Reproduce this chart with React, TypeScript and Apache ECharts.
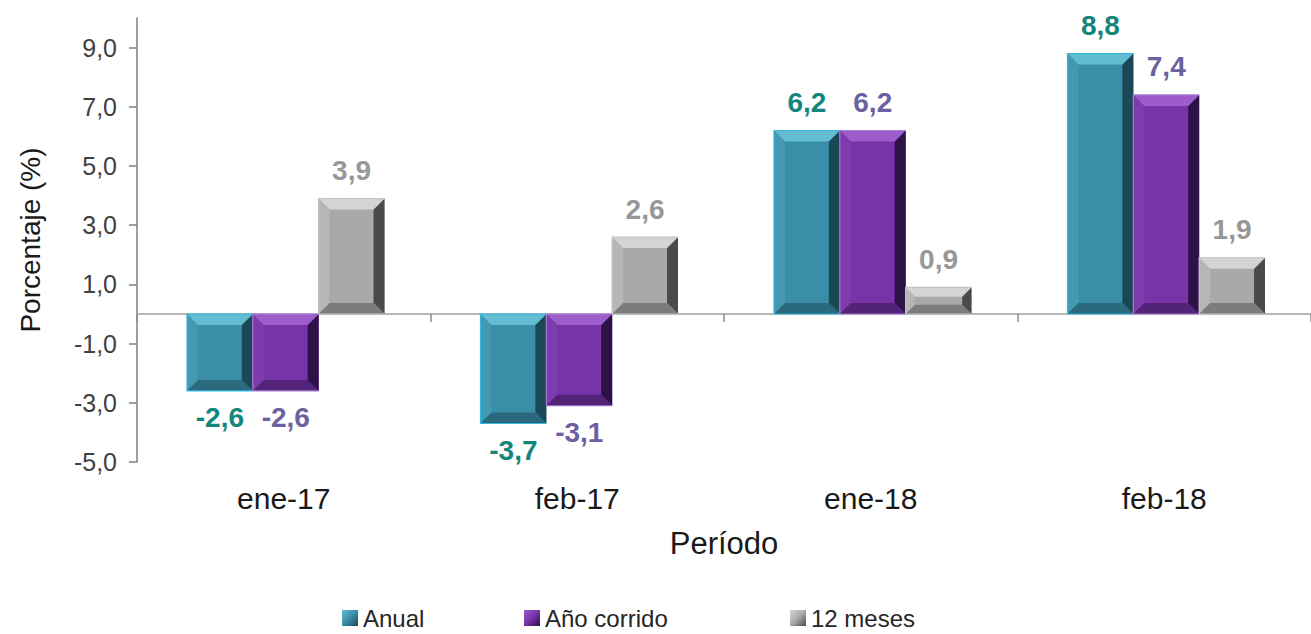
import { useEffect, useRef } from 'react';
import * as echarts from 'echarts';

const categories = ['ene-17', 'feb-17', 'ene-18', 'feb-18'];
const seriesNames = ['Anual', 'Año corrido', '12 meses'];
const anual = [-2.6, -3.7, 6.2, 8.8];
const anoCorrido = [-2.6, -3.1, 6.2, 7.4];
const doceMeses = [3.9, 2.6, 0.9, 1.9];
const yTickValues = [-5, -3, -1, 1, 3, 5, 7, 9];
const yMin = -5;
const yMax = 10;

const FONT = '"Liberation Sans", Arial, Helvetica, sans-serif';

const palettes = [
  { face: '#3A8EA7', top: '#62BCD2', left: '#4398B2', bottom: '#2A6A7C', right: '#1B4856', edge: '#35B8E0', label: '#14857D' },
  { face: '#7733A8', top: '#9C5CCB', left: '#7E3BAE', bottom: '#532279', right: '#2E1147', edge: '#A67CD0', label: '#6A62A0' },
  { face: '#A9A9A9', top: '#D4D4D4', left: '#B6B6B6', bottom: '#7C7C7C', right: '#4A4A4A', edge: '#C4C4C4', label: '#979797' },
];

const fmt = (v: number) => v.toFixed(1).replace('.', ',');

function makeRenderItem(si: number) {
  const pal = palettes[si];
  return (params: any, api: any) => {
    const ci = api.value(0);
    const v = api.value(1);
    const band = api.size([1, 0])[0];
    const w = (band * 0.673) / 3;
    const base = api.coord([ci, 0]);
    const tip = api.coord([ci, v]);
    const cx = base[0] + (si - 1) * w + 2;
    const x0 = cx - w / 2;
    const x1 = cx + w / 2;
    const y0 = Math.min(base[1], tip[1]);
    const y1 = Math.max(base[1], tip[1]);
    const h = y1 - y0;
    const b = Math.min(11, h * 0.35, w * 0.3);
    const pos = v >= 0;
    return {
      type: 'group',
      children: [
        { type: 'rect', shape: { x: x0, y: y0, width: w, height: h }, style: { fill: pal.face } },
        { type: 'polygon', shape: { points: [[x0, y0], [x0 + b, y0 + b], [x0 + b, y1 - b], [x0, y1]] }, style: { fill: pal.left } },
        { type: 'polygon', shape: { points: [[x1, y0], [x1 - b, y0 + b], [x1 - b, y1 - b], [x1, y1]] }, style: { fill: pal.right } },
        { type: 'polygon', shape: { points: [[x0, y0], [x1, y0], [x1 - b, y0 + b], [x0 + b, y0 + b]] }, style: { fill: pal.top } },
        { type: 'polygon', shape: { points: [[x0, y1], [x1, y1], [x1 - b, y1 - b], [x0 + b, y1 - b]] }, style: { fill: pal.bottom } },
        { type: 'polyline', shape: { points: [[x1, y0], [x0, y0], [x0, y1], [x1, y1]] }, style: { stroke: pal.edge, lineWidth: 1.2, fill: 'none' } },
        {
          type: 'text',
          style: {
            text: fmt(v),
            x: cx,
            y: pos ? y0 - 14 : y1 + 13,
            fill: pal.label,
            fontSize: 28,
            fontWeight: 'bold',
            fontFamily: FONT,
            align: 'center',
            verticalAlign: pos ? 'bottom' : 'top',
          },
        },
      ],
    };
  };
}

const seriesData = [anual, anoCorrido, doceMeses];
const legendLefts = [342, 524, 790];

export default function App() {
  const ref = useRef<HTMLDivElement>(null);
  useEffect(() => {
    if (!ref.current) return;
    const chart = echarts.init(ref.current, null, { renderer: 'svg' });
    const option: any = {
      animation: false,
      backgroundColor: '#ffffff',
      textStyle: { fontFamily: FONT },
      grid: { left: 137, right: -10, top: 18, bottom: 172, containLabel: false },
      legend: seriesNames.map((n, i) => ({
        data: [n],
        left: legendLefts[i],
        top: 606,
        padding: 0,
        icon: 'rect',
        itemWidth: 16,
        itemHeight: 16,
        textStyle: { fontSize: 24, color: '#262626', fontFamily: FONT },
        selectedMode: false,
      })),
      xAxis: [
        {
          type: 'category',
          data: categories,
          position: 'bottom',
          axisLine: { show: false, onZero: false },
          axisTick: { show: false },
          axisLabel: { fontSize: 30, color: '#1A1A1A', margin: 21, fontFamily: FONT },
          name: 'Período',
          nameLocation: 'middle',
          nameGap: 66,
          nameTextStyle: { fontSize: 31, color: '#1A1A1A', fontFamily: FONT },
          splitLine: { show: false },
        },
        {
          type: 'category',
          data: categories,
          position: 'bottom',
          axisLine: { show: true, onZero: true, lineStyle: { color: '#A0A0A0', width: 1.5 } },
          axisTick: { show: true, length: 8, lineStyle: { color: '#8C8C8C', width: 1.5 } },
          axisLabel: { show: false },
          splitLine: { show: false },
        },
      ],
      yAxis: {
        type: 'value',
        min: yMin,
        max: yMax,
        interval: 2,
        axisLine: { show: true, lineStyle: { color: '#7F7F7F', width: 1.5 } },
        axisTick: { show: true, length: 8, customValues: yTickValues, lineStyle: { color: '#7F7F7F', width: 1.5 } },
        axisLabel: {
          customValues: yTickValues,
          formatter: (v: number) => fmt(v),
          fontSize: 25,
          color: '#404040',
          margin: 20,
          fontFamily: FONT,
        },
        splitLine: { show: false },
        name: 'Porcentaje (%)',
        nameLocation: 'middle',
        nameRotate: 90,
        nameGap: 93,
        nameTextStyle: { fontSize: 28, color: '#1A1A1A', fontFamily: FONT },
      },
      series: seriesNames.map((n, si) => ({
        type: 'custom',
        name: n,
        xAxisIndex: 0,
        yAxisIndex: 0,
        encode: { x: 0, y: 1 },
        itemStyle: {
          color: new echarts.graphic.LinearGradient(0, 0, 1, 1, [
            { offset: 0, color: palettes[si].top },
            { offset: 0.5, color: palettes[si].face },
            { offset: 1, color: palettes[si].right },
          ]),
        },
        renderItem: makeRenderItem(si),
        data: seriesData[si].map((v, i) => [i, v]),
        z: 3,
      })),
    };
    chart.setOption(option);
    return () => chart.dispose();
  }, []);
  return <div ref={ref} style={{ position: 'fixed', left: 0, top: 0, width: 1311, height: 634 }} />;
}
